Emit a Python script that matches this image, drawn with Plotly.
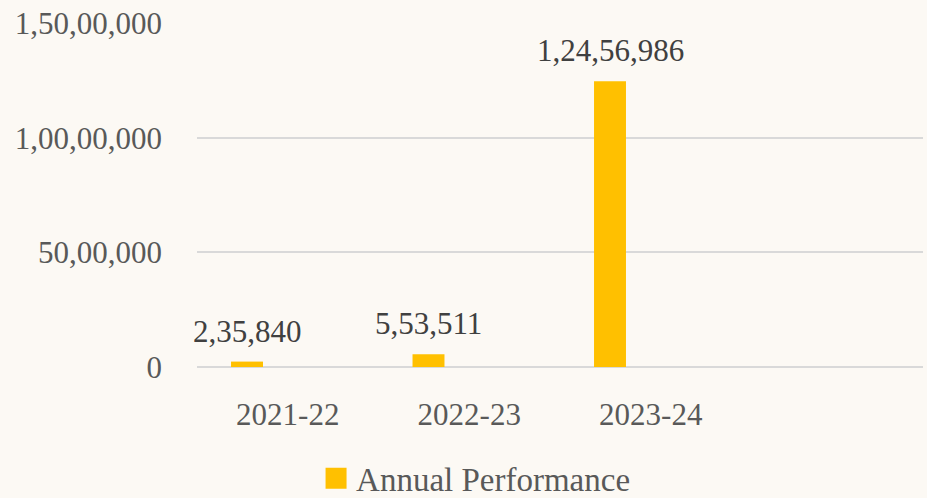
import plotly.graph_objects as go

categories = ["2021-22", "2022-23", "2023-24", ""]
values = [235840, 553511, 12456986]
series_name = "Annual Performance"
y_tick_vals = [0, 5000000, 10000000, 15000000]
y_tick_text = ["0", "50,00,000", "1,00,00,000", "1,50,00,000"]


def indian_format(n):
    s = str(int(n))
    if len(s) <= 3:
        return s
    last3 = s[-3:]
    rest = s[:-3]
    groups = []
    while len(rest) > 2:
        groups.insert(0, rest[-2:])
        rest = rest[:-2]
    if rest:
        groups.insert(0, rest)
    return ",".join(groups) + "," + last3


FONT = "Liberation Serif"
BAR = "#FFC000"
BG = "#FCF9F4"
OFFSET = -0.3125
WIDTH = 0.176

fig = go.Figure()
fig.add_trace(go.Bar(
    x=categories[:len(values)], y=values,
    offset=OFFSET, width=WIDTH,
    marker=dict(color=BAR, line=dict(width=0)),
    showlegend=False, hoverinfo="skip",
))
fig.add_trace(go.Scatter(
    x=[None], y=[None], mode="markers", name=series_name,
    marker=dict(symbol="square", size=16, color=BAR, line=dict(color=BAR, width=5)),
))

for c, v in zip(categories, values):
    fig.add_annotation(
        x=c, y=v, xref="x", yref="y", text=indian_format(v),
        showarrow=False, yanchor="bottom", xanchor="center",
        xshift=(OFFSET + WIDTH / 2) * 181.5, yshift=11,
        font=dict(family=FONT, size=31, color="#404040"),
    )

fig.update_layout(
    width=927, height=498,
    margin=dict(l=197, r=4, t=23, b=131, autoexpand=False),
    paper_bgcolor=BG, plot_bgcolor=BG,
    font=dict(family=FONT, size=31, color="#595959"),
    showlegend=True,
    legend=dict(
        orientation="h", xref="container", x=0.513, xanchor="center",
        yref="paper", y=-0.405, yanchor="bottom",
        font=dict(family=FONT, size=33, color="#595959"),
        bgcolor="rgba(0,0,0,0)",
    ),
    xaxis=dict(
        type="category", categoryorder="array", categoryarray=categories,
        range=[-0.5, 3.5], showgrid=False, zeroline=False,
        showline=False, ticks="", tickvals=categories[:3],
        ticklabelstandoff=26, fixedrange=True,
    ),
    yaxis=dict(
        range=[0, 15000000], tickvals=y_tick_vals, ticktext=y_tick_text,
        showgrid=True, gridcolor="#D9D9D9", gridwidth=1.5,
        zeroline=True, zerolinecolor="#D9D9D9", zerolinewidth=1.5,
        showline=False, ticks="", ticklabelstandoff=34, fixedrange=True,
    ),
)

fig.write_html(
    "out.html",
    config={"displayModeBar": False},
    post_script="document.body.style.margin='0';document.body.style.background='" + BG + "';",
)
